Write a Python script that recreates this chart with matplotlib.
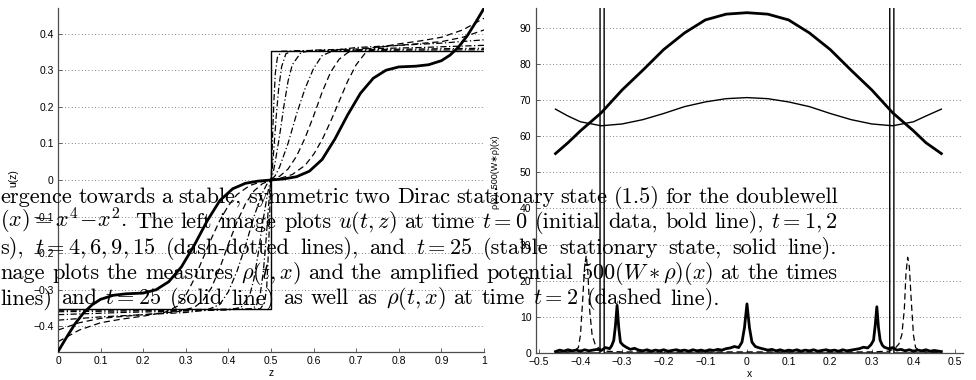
import numpy as np
import matplotlib
matplotlib.use("Agg")
import matplotlib.pyplot as plt

plt.rcParams['mathtext.fontset'] = 'cm'
plt.rcParams['font.family'] = ['Liberation Sans', 'DejaVu Sans']
plt.rcParams['axes.unicode_minus'] = True

# ---------------- left panel data: u(t, z) ----------------
z_t0 = [0, 0.02, 0.04, 0.06, 0.08, 0.10, 0.13, 0.16, 0.20, 0.23, 0.26, 0.29, 0.32, 0.35, 0.38, 0.41,
        0.44, 0.47, 0.50, 0.53, 0.56, 0.59, 0.62, 0.65, 0.68, 0.71, 0.74, 0.77, 0.80, 0.84, 0.87,
        0.90, 0.92, 0.94, 0.96, 0.98, 1.0]
u_t0 = [-0.469, -0.43, -0.393, -0.363, -0.341, -0.326, -0.315, -0.311, -0.309, -0.300, -0.278,
        -0.237, -0.178, -0.112, -0.056, -0.024, -0.009, -0.003, 0, 0.003, 0.009, 0.024, 0.056,
        0.112, 0.178, 0.237, 0.278, 0.300, 0.309, 0.311, 0.315, 0.326, 0.341, 0.363, 0.393, 0.43, 0.469]

z_t1 = [0, 0.05, 0.10, 0.15, 0.20, 0.25, 0.28, 0.30, 0.32, 0.34, 0.36, 0.38, 0.40, 0.42, 0.45, 0.48,
        0.50, 0.52, 0.55, 0.58, 0.60, 0.62, 0.64, 0.66, 0.68, 0.70, 0.72, 0.75, 0.80, 0.85, 0.90, 0.95, 1.0]
u_t1 = [-0.442, -0.41, -0.39, -0.38, -0.372, -0.362, -0.345, -0.315, -0.27, -0.215, -0.16, -0.11,
        -0.07, -0.04, -0.015, -0.004, 0, 0.004, 0.015, 0.04, 0.07, 0.11, 0.16, 0.215, 0.27, 0.315,
        0.345, 0.362, 0.372, 0.38, 0.39, 0.41, 0.442]

z_t2 = [0, 0.05, 0.10, 0.20, 0.28, 0.32, 0.34, 0.36, 0.38, 0.40, 0.42, 0.44, 0.46, 0.48,
        0.50, 0.52, 0.54, 0.56, 0.58, 0.60, 0.62, 0.64, 0.66, 0.68, 0.72, 0.80, 0.90, 0.95, 1.0]
u_t2 = [-0.41, -0.39, -0.378, -0.368, -0.36, -0.348, -0.33, -0.295, -0.24, -0.175, -0.115, -0.065,
        -0.03, -0.01, 0, 0.01, 0.03, 0.065, 0.115, 0.175, 0.24, 0.295, 0.33, 0.348, 0.36, 0.368,
        0.378, 0.39, 0.41]

z_t4 = [0, 0.10, 0.20, 0.30, 0.35, 0.38, 0.40, 0.42, 0.44, 0.46, 0.48, 0.49,
        0.50, 0.51, 0.52, 0.54, 0.56, 0.58, 0.60, 0.62, 0.65, 0.70, 0.80, 0.90, 1.0]
u_t4 = [-0.383, -0.374, -0.368, -0.362, -0.355, -0.34, -0.305, -0.25, -0.18, -0.10, -0.035, -0.012,
        0, 0.012, 0.035, 0.10, 0.18, 0.25, 0.305, 0.34, 0.355, 0.362, 0.368, 0.374, 0.383]

z_t6 = [0, 0.15, 0.30, 0.40, 0.43, 0.45, 0.46, 0.47, 0.48, 0.49, 0.495,
        0.50, 0.505, 0.51, 0.52, 0.53, 0.54, 0.55, 0.57, 0.60, 0.70, 0.85, 1.0]
u_t6 = [-0.368, -0.362, -0.358, -0.355, -0.348, -0.315, -0.27, -0.20, -0.12, -0.05, -0.02,
        0, 0.02, 0.05, 0.12, 0.20, 0.27, 0.315, 0.348, 0.355, 0.358, 0.362, 0.368]

z_t9 = [0, 0.30, 0.45, 0.465, 0.475, 0.482, 0.488, 0.493, 0.497,
        0.50, 0.503, 0.507, 0.512, 0.518, 0.525, 0.535, 0.55, 0.70, 1.0]
u_t9 = [-0.36, -0.356, -0.353, -0.345, -0.31, -0.25, -0.17, -0.09, -0.03,
        0, 0.03, 0.09, 0.17, 0.25, 0.31, 0.345, 0.353, 0.356, 0.36]

z_t15 = [0, 0.30, 0.475, 0.485, 0.49, 0.493, 0.496, 0.498,
         0.50, 0.502, 0.504, 0.507, 0.51, 0.515, 0.525, 0.70, 1.0]
u_t15 = [-0.356, -0.354, -0.352, -0.335, -0.29, -0.22, -0.13, -0.05,
         0, 0.05, 0.13, 0.22, 0.29, 0.335, 0.352, 0.354, 0.356]

z_t25 = [0, 0.5, 0.5, 1.0]
u_t25 = [-0.352, -0.352, 0.352, 0.352]

# ---------------- right panel data ----------------
x_pot = [-0.46, -0.43, -0.40, -0.35, -0.30, -0.25, -0.20, -0.15, -0.10, -0.05, 0, 0.05, 0.10,
         0.15, 0.20, 0.25, 0.30, 0.35, 0.40, 0.43, 0.467]
pot_t0 = [55.2, 58.2, 61.5, 66.5, 72.8, 78.3, 84.0, 88.6, 92.2, 93.8, 94.2, 93.8, 92.2, 88.6,
          84.0, 78.3, 72.8, 66.5, 61.5, 58.2, 55.2]
pot_t25 = [67.5, 65.6, 64.0, 62.9, 63.4, 64.6, 66.3, 68.2, 69.5, 70.4, 70.7, 70.4, 69.5, 68.2,
           66.3, 64.6, 63.4, 62.9, 64.0, 65.6, 67.5]

x_rho0 = [-0.46, -0.45, -0.44, -0.43, -0.42, -0.41, -0.40, -0.39, -0.38, -0.37, -0.36, -0.35,
          -0.34, -0.33, -0.325, -0.32, -0.316, -0.312, -0.308, -0.304, -0.298, -0.29, -0.28,
          -0.27, -0.26, -0.25, -0.24, -0.23, -0.22, -0.21, -0.20, -0.19, -0.18, -0.17, -0.16,
          -0.15, -0.14, -0.13, -0.12, -0.11, -0.10, -0.09, -0.08, -0.07, -0.06, -0.05, -0.04,
          -0.03, -0.02, -0.012, -0.006, 0, 0.006, 0.012, 0.02, 0.03, 0.04, 0.05, 0.06, 0.07,
          0.08, 0.09, 0.10, 0.11, 0.12, 0.13, 0.14, 0.15, 0.16, 0.17, 0.18, 0.19, 0.20, 0.21,
          0.22, 0.23, 0.24, 0.25, 0.26, 0.27, 0.28, 0.29, 0.298, 0.304, 0.308, 0.312, 0.316,
          0.32, 0.325, 0.33, 0.34, 0.35, 0.36, 0.37, 0.38, 0.39, 0.40, 0.41, 0.42, 0.43, 0.44,
          0.45, 0.467]
rho0 = [0.4, 0.8, 0.5, 0.9, 0.6, 0.8, 0.5, 0.9, 0.6, 0.8, 1.0, 0.7,
        1.5, 1.2, 2.0, 3.5, 7.5, 13.2, 7.0, 3.0, 2.2, 1.6, 1.0,
        1.3, 0.8, 0.6, 0.9, 0.5, 0.8, 0.6, 0.9, 0.5, 0.7, 0.9, 0.6,
        0.8, 0.5, 0.9, 0.6, 0.8, 0.5, 0.9, 0.7, 1.0, 0.8, 1.2, 1.4,
        1.8, 1.5, 3.0, 7.0, 13.6, 7.0, 3.0, 1.8, 1.4, 1.1, 0.8, 1.0, 0.6,
        0.9, 0.5, 0.8, 0.6, 0.9, 0.5, 0.8, 0.6, 0.9, 0.5, 0.7, 0.9, 0.6, 0.8,
        0.5, 0.9, 0.6, 0.8, 1.0, 1.2, 1.6, 1.4, 2.3, 3.5, 7.5, 12.8, 7.0,
        3.5, 2.2, 1.6, 1.2, 1.5, 0.8, 1.0, 0.6, 0.9, 0.5, 0.8, 0.6, 0.9, 0.5,
        0.7, 0.4]

x_rho2 = [-0.46, -0.43, -0.415, -0.405, -0.40, -0.395, -0.39, -0.386, -0.382, -0.378, -0.372,
          -0.365, -0.355, -0.34, -0.30, 0, 0.30, 0.34, 0.355, 0.365, 0.372, 0.378, 0.382, 0.386,
          0.39, 0.395, 0.40, 0.405, 0.415, 0.43, 0.46]
rho2 = [0.2, 0.3, 0.6, 1.5, 5.0, 14.0, 24.0, 27.0, 22.0, 12.0, 5.0, 2.5, 1.2, 0.5, 0.3, 0.3, 0.3,
        0.5, 1.2, 2.5, 5.0, 12.0, 22.0, 26.5, 24.0, 14.0, 5.0, 1.5, 0.6, 0.3, 0.2]

x_rho25 = [-0.46, -0.353, -0.348, -0.343, 0.343, 0.348, 0.353, 0.467]
rho25 = [0, 0, 5000, 0, 0, 5000, 0, 0]

left_yticks = [-0.4, -0.3, -0.2, -0.1, 0, 0.1, 0.2, 0.3, 0.4]
left_xticks = [0, 0.1, 0.2, 0.3, 0.4, 0.5, 0.6, 0.7, 0.8, 0.9, 1]
right_yticks = [0, 10, 20, 30, 40, 50, 60, 70, 80, 90]
right_xticks = [-0.5, -0.4, -0.3, -0.2, -0.1, 0, 0.1, 0.2, 0.3, 0.4, 0.5]

caption_lines = [
    ["ergence", "towards", "a", "stable,", "symmetric", "two", "Dirac", "stationary", "state",
     "(1.5)", "for", "the", "doublewell"],
    [r"$(x) = x^4\!-\!x^2$.", "The", "left", "image", "plots", r"$u(t,z)$", "at", "time",
     r"$t = 0$", "(initial", "data,", "bold", "line),", r"$t = 1,2$"],
    ["s),", r"$t = 4,6,9,15$", "(dash-dotted", "lines),", "and", r"$t = 25$", "(stable",
     "stationary", "state,", "solid", "line)."],
    ["nage", "plots", "the", "measures", r"$\rho(t,x)$", "and", "the", "amplified", "potential",
     r"$500(W\ast\rho)(x)$", "at", "the", "times"],
    ["lines)", "and", r"$t = 25$", "(solid", "line)", "as", "well", "as", r"$\rho(t,x)$", "at",
     "time", r"$t = 2$", "(dashed", "line)."],
]
caption_right_px = [838, 838, 837, 838, 720]

# ---------------- figure ----------------
W, H = 976, 380
fig = plt.figure(figsize=(W / 100, H / 100), dpi=100)

def px_axes(x0, x1, ytop, ybot):
    return fig.add_axes([x0 / W, 1 - ybot / H, (x1 - x0) / W, (ybot - ytop) / H])

axL = px_axes(58, 484, 8, 352)
axR = px_axes(535.5, 963, 8, 353)

dash = (0, (5, 3))
dashdot = (0, (5, 2, 1, 2))
lw = 0.9
axL.plot(z_t0, u_t0, color='k', lw=2.0, zorder=5)
axL.plot(z_t1, u_t1, color='k', lw=lw, ls=dash)
axL.plot(z_t2, u_t2, color='k', lw=lw, ls=dash)
axL.plot(z_t4, u_t4, color='k', lw=lw, ls=dashdot)
axL.plot(z_t6, u_t6, color='k', lw=lw, ls=dashdot)
axL.plot(z_t9, u_t9, color='k', lw=lw, ls=dashdot)
axL.plot(z_t15, u_t15, color='k', lw=lw, ls=dashdot)
axL.plot(z_t25, u_t25, color='k', lw=1.0)
axL.set_xlim(0, 1)
axL.set_ylim(-0.47, 0.47)
axL.set_xticks(left_xticks)
axL.set_xticklabels([f"{v:g}" for v in left_xticks])
axL.set_yticks(left_yticks)
axL.set_yticklabels([f"{v:g}".replace('-', '\u2212') for v in left_yticks])
axL.set_xlabel("z", fontsize=7.5, labelpad=1)
axL.set_ylabel("u(z)", fontsize=7.5)
axL.yaxis.set_label_coords((18 - 58) / (484 - 58), (352 - 178) / (352 - 8))

axR.plot(x_rho2, rho2, color='k', lw=lw, ls=dash)
axR.plot(x_rho25, rho25, color='k', lw=1.0)
axR.plot(x_pot, pot_t25, color='k', lw=1.0)
axR.plot(x_pot, pot_t0, color='k', lw=2.0)
axR.plot(x_rho0, rho0, color='k', lw=2.0)
axR.set_xlim(-0.508, 0.519)
axR.set_ylim(0, 95.5)
axR.set_xticks(right_xticks)
axR.set_xticklabels([f"{v:g}".replace('-', '\u2212') for v in right_xticks])
axR.set_yticks(right_yticks)
axR.set_xlabel("x", fontsize=7.5, labelpad=1)
axR.set_ylabel("\u03c1(x), 500(W\u2217\u03c1)(x)", fontsize=6.5)
axR.yaxis.set_label_coords((500 - 535.5) / (963 - 535.5), (353 - 172) / (353 - 8))

for ax in (axL, axR):
    for s in ('top', 'right'):
        ax.spines[s].set_visible(False)
    for s in ('left', 'bottom'):
        ax.spines[s].set_color('0.3')
        ax.spines[s].set_linewidth(0.9)
    ax.tick_params(direction='in', length=3, width=0.6, colors='0.3', labelcolor='k',
                   labelsize=7.5, pad=3)
    ax.yaxis.grid(True, linestyle=(0, (1, 3)), color='0.35', lw=0.6)
    ax.xaxis.grid(False)
    ax.set_axisbelow(True)

# ---------------- caption text (justified lines) ----------------
FS = 16.1
baselines = [202.5, 228.0, 253.5, 279.0, 304.5]
fig.canvas.draw()
renderer = fig.canvas.get_renderer()
for tokens, yb, xr in zip(caption_lines, baselines, caption_right_px):
    texts = [fig.text(0, 0, tok, fontfamily='cmr10', fontsize=FS, va='baseline', ha='left',
                      color='k', zorder=10) for tok in tokens]
    widths = [t.get_window_extent(renderer).width for t in texts]
    x0 = 0.5
    gap = (xr - x0 - sum(widths)) / (len(tokens) - 1)
    x = x0
    for t, w in zip(texts, widths):
        t.set_position((x / W, 1 - yb / H))
        x += w + gap

fig.savefig("out.png", dpi=100)
